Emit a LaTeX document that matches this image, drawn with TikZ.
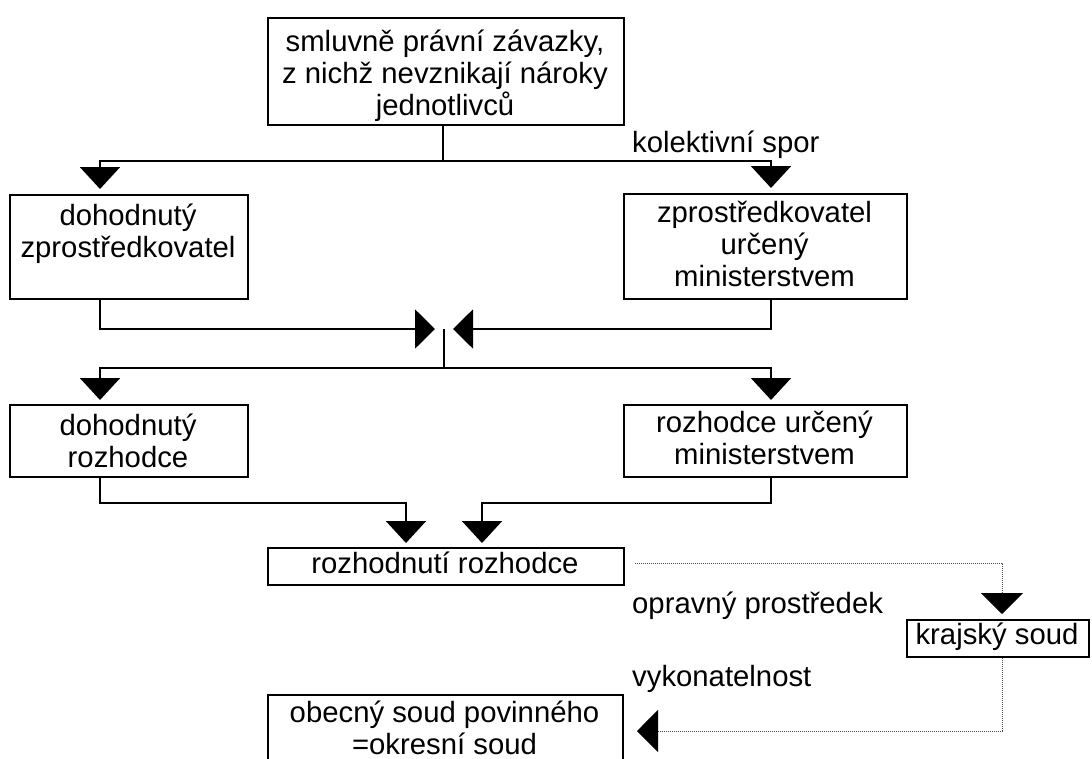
\documentclass[tikz,border=0pt]{standalone}
\usepackage{fontspec}
\setmainfont{Liberation Sans}
\usetikzlibrary{arrows.meta}
\newcommand\diafont{\fontsize{29.3}{31.7}\selectfont}
\begin{document}
\begin{tikzpicture}[x=1pt,y=-1pt,
  box/.style={draw,line width=2pt,inner sep=0pt,anchor=north west},
  txt/.style={font=\diafont,align=center,inner sep=0pt,anchor=base},
  lab/.style={font=\diafont,inner sep=0pt,anchor=base west},
  con/.style={line width=2pt},
  dnarr/.style={-{Triangle[length=22pt,width=40pt]}},
  sidearr/.style={-{Triangle[length=20pt,width=39pt]}},
  dot/.style={line width=0.9pt,draw=black!70,dash pattern=on 1pt off 1pt},
  dotarr/.style={-{Triangle[length=21pt,width=42pt,color=black,fill=black]}}]
\useasboundingbox (0,0) rectangle (1092,758);
\clip (0,0) rectangle (1092,758);
% boxes
\node[box,minimum width=356pt,minimum height=107pt] (top) at (267,17) {};
\node[box,minimum width=238pt,minimum height=104pt] (dz) at (9,194) {};
\node[box,minimum width=283pt,minimum height=105pt] (zm) at (623,193) {};
\node[box,minimum width=238pt,minimum height=72pt] (dr) at (9,404) {};
\node[box,minimum width=283pt,minimum height=72pt] (mr) at (623,404) {};
\node[box,minimum width=356pt,minimum height=37pt] (rr) at (267,547) {};
\node[box,minimum width=182pt,minimum height=37pt] (ks) at (906,619) {};
\node[box,minimum width=355pt,minimum height=100pt] (os) at (267,694) {};
% texts
\node[txt] (topt) at (445,115) {smluvně právní závazky,\\z nichž nevznikají nároky\\jednotlivců};
\node[txt] (dzt) at (128,257) {dohodnutý\\zprostředkovatel};
\node[txt] (zmt) at (764.5,286) {zprostředkovatel\\určený\\ministerstvem};
\node[txt] (drt) at (128,467) {dohodnutý\\rozhodce};
\node[txt] (mrt) at (764.5,464) {rozhodce určený\\ministerstvem};
\node[txt] (rrt) at (445,573) {rozhodnutí rozhodce};
\node[txt] (kst) at (997,644) {krajský soud};
\node[txt] (ost) at (444.5,754) {obecný soud povinného\\=okresní soud};
\node[lab] (l1) at (632,152) {kolektivní spor};
\node[lab] (l2) at (632,613) {opravný prostředek};
\node[lab] (l3) at (632,686) {vykonatelnost};
% helper coordinates
\coordinate (j1) at (443,161);
\coordinate (cL) at (100,0);
\coordinate (cR) at (771,0);
\coordinate (m1) at (444,329);
\coordinate (m2) at (444,368);
\coordinate (k1) at (406,503);
\coordinate (k2) at (482,503);
\coordinate (d1) at (1002,563);
\coordinate (d2) at (1002,731);
% connectors
\draw[con] (top.south -| j1) -- (j1);
\draw[con,dnarr,shorten >=5pt] (j1) -| (dz.north -| cL);
\draw[con,dnarr,shorten >=5pt] (j1) -| (zm.north -| cR);
\draw[con,sidearr,shorten >=9pt] (dz.south -| cL) |- (m1);
\draw[con,sidearr,shorten >=9pt] (zm.south -| cR) |- (m1);
\draw[con] (m1) -- (m2);
\draw[con,dnarr,shorten >=4pt] (m2) -| (dr.north -| cL);
\draw[con,dnarr,shorten >=4pt] (m2) -| (mr.north -| cR);
\draw[con,dnarr,shorten >=4pt] (dr.south -| cL) |- (k1) -- (rr.north -| k1);
\draw[con,dnarr,shorten >=4pt] (mr.south -| cR) |- (k2) -- (rr.north -| k2);
\draw[dot,dotarr,shorten <=10pt,shorten >=5pt] (rr.east |- d1) -- (d1) -- (ks.north -| d1);
\draw[dot,dotarr,shorten >=13pt] (ks.south -| d1) -- (d2) -- (os.east |- d2);
\end{tikzpicture}
\end{document}
